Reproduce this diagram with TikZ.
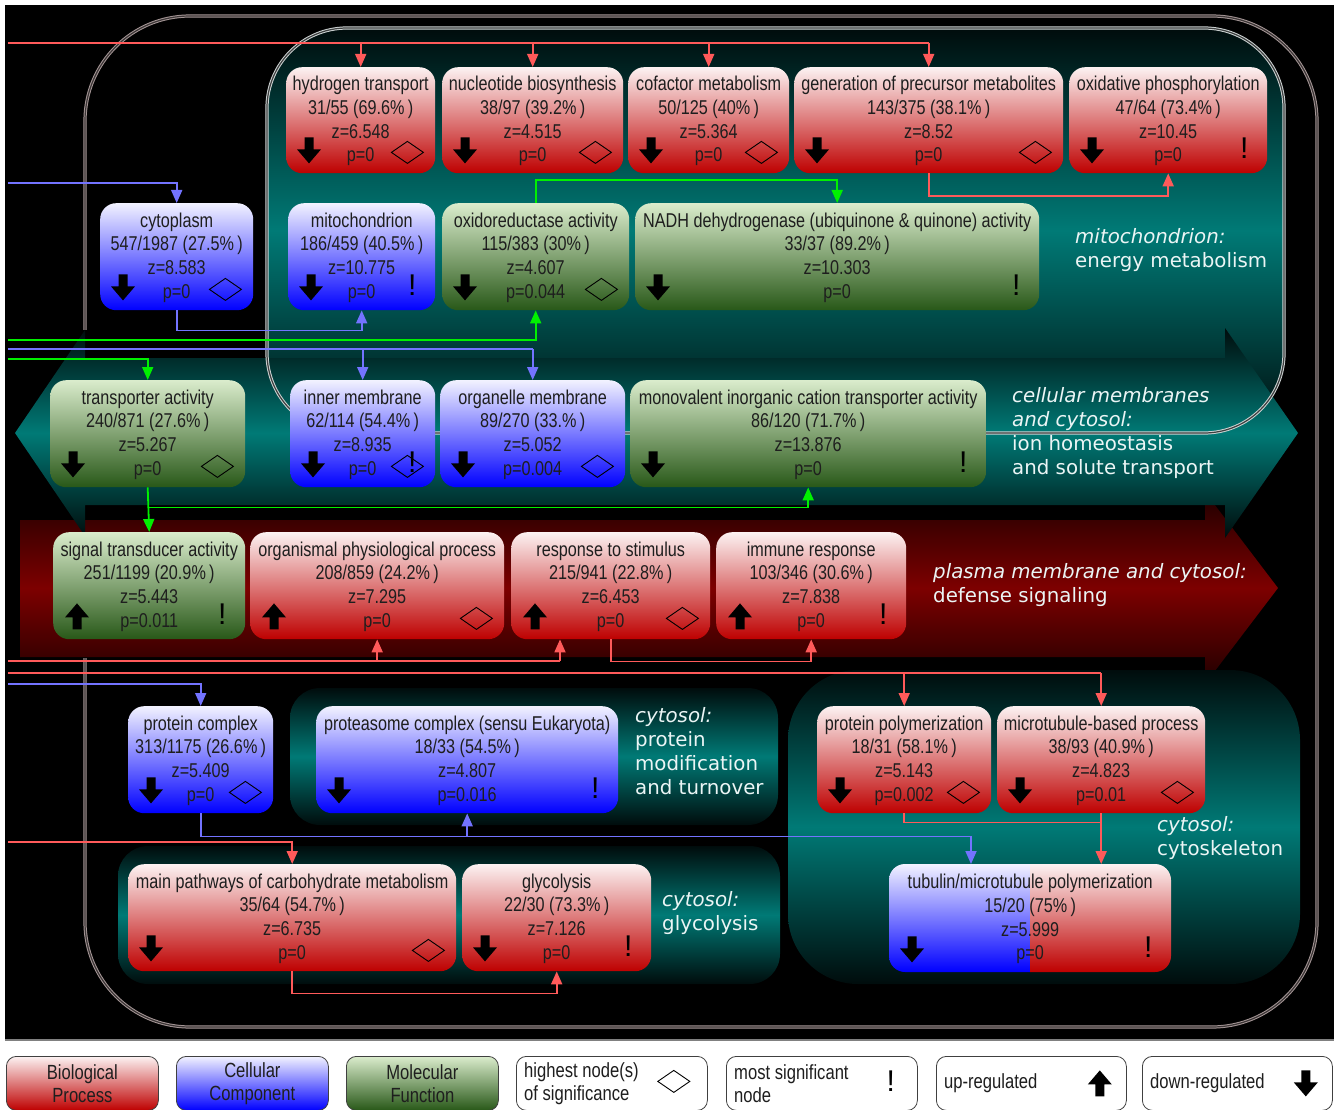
\documentclass[tikz,border=0pt]{standalone}
\usepackage{fontspec}
\newfontfamily\nodefont{Liberation Sans}[FakeStretch=0.81]
\newfontfamily\exfont{Liberation Sans}
\newfontfamily\regfont{DejaVu Sans}
\usetikzlibrary{arrows.meta,calc}
\definecolor{bpTop}{RGB}{252,242,242}
\definecolor{bpBot}{RGB}{190,0,0}
\definecolor{ccTop}{RGB}{242,242,255}
\definecolor{ccBot}{RGB}{0,0,255}
\definecolor{mfTop}{RGB}{218,236,204}
\definecolor{mfBot}{RGB}{40,88,24}
\definecolor{tealM}{RGB}{0,122,118}
\definecolor{tealD}{RGB}{0,12,12}
\definecolor{redM}{RGB}{125,0,0}
\definecolor{redD}{RGB}{30,0,0}
\definecolor{lnRed}{RGB}{255,90,90}
\definecolor{lnBlue}{RGB}{115,115,255}
\definecolor{lnGreen}{RGB}{0,240,0}
\definecolor{frameA}{RGB}{165,150,150}
\definecolor{frameB}{RGB}{205,210,210}
\definecolor{regtext}{RGB}{235,245,245}
\definecolor{nodetext}{RGB}{30,30,30}
\tikzset{
  gobox/.style={rounded corners=16pt, anchor=north west, align=center, inner sep=0pt,
    font=\nodefont\fontsize{20}{23.7}\selectfont, text=nodetext},
  bpbox/.style={gobox, top color=bpTop, bottom color=bpBot},
  ccbox/.style={gobox, top color=ccTop, bottom color=ccBot},
  mfbox/.style={gobox, top color=mfTop, bottom color=mfBot},
  rl/.style={lnRed, line width=1.8pt},
  bl/.style={lnBlue, line width=1.8pt},
  gl/.style={lnGreen, line width=1.8pt},
  arr/.style={-{Triangle[length=13pt,width=11pt]}},
  exmark/.style={font=\exfont\fontsize{30}{30}\selectfont, inner sep=0pt, text=black},
  reglab/.style={anchor=west, align=left, text=regtext, inner sep=0pt,
    font=\regfont\fontsize{19.8}{24}\selectfont},
  regshade/.style={top color=tealD, bottom color=tealD, middle color=tealM},
  legbox/.style={rounded corners=10pt, anchor=north west, minimum height=54pt, inner sep=0pt,
    font=\nodefont\fontsize{20.5}{23}\selectfont, align=center, draw=black!75, line width=0.8pt, text=nodetext},
  legtext/.style={anchor=west, align=left, inner sep=0pt, font=\nodefont\fontsize{20.5}{23}\selectfont, text=nodetext},
  outerframe/.style={draw=frameA, line width=1pt, double=frameA!35!black, double distance=1.2pt},
  innerframe/.style={draw=frameB, line width=1pt, double=frameB!30!black, double distance=1.2pt},
}
\newcommand\gonode[7]{\node[#1, minimum width={(#5-#3)*1pt}, minimum height={(#6-#4)*1pt}] (#2) at (#3,#4) {\raisebox{-6pt}[0pt][0pt]{\parbox{\dimexpr(#5pt-#3pt)\relax}{\centering #7}}};}
\newcommand\dnarr[1]{\fill[black] (#1) ++(-4.5,-13) -- ++(9,0) -- ++(0,12) -- ++(7.5,0) -- ++(-12,14) -- ++(-12,-14) -- ++(7.5,0) -- cycle;}
\newcommand\uparr[1]{\fill[black] (#1) ++(-4.5,13) -- ++(9,0) -- ++(0,-12) -- ++(7.5,0) -- ++(-12,-14) -- ++(-12,14) -- ++(7.5,0) -- cycle;}
\newcommand\diam[1]{\draw[black, line width=0.9pt] (#1) ++(-16,0) -- ++(16,-11) -- ++(16,11) -- ++(-16,11) -- cycle;}
\newcommand\Dn[1]{\dnarr{$(#1.south west)+(23,-23)$}}
\newcommand\Up[1]{\uparr{$(#1.south west)+(24,-23)$}}
\newcommand\Di[1]{\diam{$(#1.south east)+(-28,-21)$}}
\newcommand\Ex[1]{\node[exmark] (#1-ex) at ($(#1.south east)+(-23,-25)$) {!};}
\begin{document}
\begin{tikzpicture}[x=1pt, y=-1pt]
\useasboundingbox (0,0) rectangle (1334,1110);
\fill[white] (0,0) rectangle (1334,1110);
% black background
\fill[black] (5,5) rectangle (1334,1040);
\draw[gray, line width=1.2pt] (5,1040) -- (1334,1040);
% outer frame
\draw[outerframe, rounded corners=105pt] (85,16) rectangle (1317,1027);
\fill[black] (78,330) rectangle (92,658);
% mitochondrion region
\shade[regshade, rounded corners=80pt] (267,28) rectangle (1284,433);
% plasma membrane band
\shade[top color=redD, bottom color=redD, middle color=redM]
  (20,520) -- (1205,520) -- (1205,492) -- (1278,588) -- (1205,684) -- (1205,657) -- (20,657) -- cycle;
% cellular membranes band
\shade[regshade]
  (15,433) -- (85,330) -- (85,358) -- (1225,358) -- (1225,328) -- (1298,433) -- (1225,538) -- (1225,505) -- (85,505) -- (85,536) -- cycle;
% lower regions
\shade[regshade, rounded corners=30pt] (290,688) rectangle (778,825);
\shade[regshade, rounded corners=30pt] (118,846) rectangle (780,984);
\shade[regshade, rounded corners=70pt] (788,670) rectangle (1300,984);
% inner frame
\draw[innerframe, rounded corners=80pt] (267,28) rectangle (1284,433);

% region labels
\node[reglab] (labmito) at (1075,250) {\textit{mitochondrion:}\\energy metabolism};
\node[reglab] (labcell) at (1012,433) {\textit{cellular membranes}\\\textit{and cytosol:}\\ion homeostasis\\and solute transport};
\node[reglab] (labplas) at (933,585) {\textit{plasma membrane and cytosol:}\\defense signaling};
\node[reglab] (labprot) at (635,751) {\textit{cytosol:}\\protein\\modification\\and turnover};
\node[reglab] (labcysk) at (1157,838) {\textit{cytosol:}\\cytoskeleton};
\node[reglab] (labglyc) at (662,913) {\textit{cytosol:}\\glycolysis};

% tubulin split background
\begin{scope}
\clip[rounded corners=16pt] (889,864) rectangle (1171,972);
\shade[top color=ccTop, bottom color=ccBot] (889,864) rectangle (1030,972);
\shade[top color=bpTop, bottom color=bpBot] (1030,864) rectangle (1171,972);
\end{scope}

% nodes
\gonode{bpbox}{ht}{286}{67}{435}{173}{hydrogen transport\\31/55 (69.6\%\,)\\z=6.548\\p=0}
\gonode{bpbox}{nb}{442}{67}{623}{173}{nucleotide biosynthesis\\38/97 (39.2\%\,)\\z=4.515\\p=0}
\gonode{bpbox}{cm}{628}{67}{789}{173}{cofactor metabolism\\50/125 (40\%\,)\\z=5.364\\p=0}
\gonode{bpbox}{gen}{794}{67}{1063}{173}{generation of precursor metabolites\\143/375 (38.1\%\,)\\z=8.52\\p=0}
\gonode{bpbox}{oxp}{1069}{67}{1267}{173}{oxidative phosphorylation\\47/64 (73.4\%\,)\\z=10.45\\p=0}
\gonode{ccbox}{cyto}{100}{203}{253}{310}{cytoplasm\\547/1987 (27.5\%\,)\\z=8.583\\p=0}
\gonode{ccbox}{mito}{288}{203}{435}{310}{mitochondrion\\186/459 (40.5\%\,)\\z=10.775\\p=0}
\gonode{mfbox}{oxr}{442}{203}{629}{310}{oxidoreductase activity\\115/383 (30\%\,)\\z=4.607\\p=0.044}
\gonode{mfbox}{nadh}{635}{203}{1039}{310}{NADH dehydrogenase (ubiquinone \& quinone) activity\\33/37 (89.2\%\,)\\z=10.303\\p=0}
\gonode{mfbox}{tr}{50}{380}{245}{487}{transporter activity\\240/871 (27.6\%\,)\\z=5.267\\p=0}
\gonode{ccbox}{inm}{290}{380}{435}{487}{inner membrane\\62/114 (54.4\%\,)\\z=8.935\\p=0}
\gonode{ccbox}{orgm}{440}{380}{625}{487}{organelle membrane\\89/270 (33.\%\,)\\z=5.052\\p=0.004}
\gonode{mfbox}{mono}{630}{380}{986}{487}{monovalent inorganic cation transporter activity\\86/120 (71.7\%\,)\\z=13.876\\p=0}
\gonode{mfbox}{st}{53}{532}{245}{639}{signal transducer activity\\251/1199 (20.9\%\,)\\z=5.443\\p=0.011}
\gonode{bpbox}{orgp}{250}{532}{504}{639}{organismal physiological process\\208/859 (24.2\%\,)\\z=7.295\\p=0}
\gonode{bpbox}{resp}{511}{532}{710}{639}{response to stimulus\\215/941 (22.8\%\,)\\z=6.453\\p=0}
\gonode{bpbox}{imm}{716}{532}{906}{639}{immune response\\103/346 (30.6\%\,)\\z=7.838\\p=0}
\gonode{ccbox}{pc}{128}{706}{273}{813}{protein complex\\313/1175 (26.6\%\,)\\z=5.409\\p=0}
\gonode{ccbox}{prs}{316}{706}{618}{813}{proteasome complex (sensu Eukaryota)\\18/33 (54.5\%\,)\\z=4.807\\p=0.016}
\gonode{bpbox}{pp}{817}{706}{991}{813}{protein polymerization\\18/31 (58.1\%\,)\\z=5.143\\p=0.002}
\gonode{bpbox}{mtb}{997}{706}{1205}{813}{microtubule-based process\\38/93 (40.9\%\,)\\z=4.823\\p=0.01}
\gonode{bpbox}{mp}{128}{864}{456}{971}{main pathways of carbohydrate metabolism\\35/64 (54.7\%\,)\\z=6.735\\p=0}
\gonode{bpbox}{gly}{462}{864}{651}{971}{glycolysis\\22/30 (73.3\%\,)\\z=7.126\\p=0}
\gonode{gobox}{tub}{889}{864}{1171}{972}{tubulin/microtubule polymerization\\15/20 (75\%\,)\\z=5.999\\p=0}

% connectors
\coordinate (Lr1) at (8,43);
\draw[rl] (Lr1) -- (Lr1 -| gen.north);
\foreach \n in {ht,nb,cm,gen} \draw[rl,arr] (Lr1 -| \n.north) -- (\n.north);
\draw[rl,arr] (gen.south) -- ++(0,23) -| (oxp.south);

\coordinate (Lb1) at (8,183);
\draw[bl,arr] (Lb1) -| (cyto.north);
\draw[bl,arr] (cyto.south) -- ++(0,20) -| (mito.south);

\coordinate (Lg1) at (8,340);
\draw[gl,arr] (Lg1) -| (oxr.south);
\draw[gl,arr] (oxr.north) -- ++(0,-23) -| (nadh.north);

\coordinate (Lb2) at (8,349);
\draw[bl] (Lb2) -- (Lb2 -| orgm.north);
\draw[bl,arr] (Lb2 -| inm.north) -- (inm.north);
\draw[bl,arr] (Lb2 -| orgm.north) -- (orgm.north);

\coordinate (Lg2) at (8,359);
\draw[gl,arr] (Lg2) -| (tr.north);
\draw[gl,arr] (tr.south) -- (st.north);
\coordinate (jg) at ($(tr.south)+(0,20)$);
\draw[gl,arr] (jg) -| (mono.south);

\coordinate (Lr2) at (8,661);
\coordinate (x560) at (560,0);
\draw[rl] (Lr2) -- (Lr2 -| x560);
\draw[rl,arr] (Lr2 -| orgp.south) -- (orgp.south);
\draw[rl,arr] (Lr2 -| x560) -- (x560 |- resp.south);
\draw[rl,arr] (resp.south) -- ++(0,22) -| (imm.south);

\coordinate (Lr3) at (8,673);
\draw[rl] (Lr3) -- (Lr3 -| mtb.north);
\draw[rl,arr] (Lr3 -| pp.north) -- (pp.north);
\draw[rl,arr] (Lr3 -| mtb.north) -- (mtb.north);

\coordinate (Lb3) at (8,684);
\coordinate (x971) at (971,0);
\draw[bl,arr] (Lb3) -| (pc.north);
\coordinate (jb) at ($(pc.south)+(0,23)$);
\draw[bl,arr] (pc.south) -- (jb) -| (x971 |- tub.north);
\draw[bl,arr] (jb -| prs.south) -- (prs.south);

\coordinate (Lr4) at (8,842);
\draw[rl,arr] (Lr4) -| (mp.north);
\draw[rl,arr] (mp.south) -- ++(0,22) -| (gly.south);
\draw[rl] (pp.south) -- ++(0,9) -| (mtb.south);
\draw[rl,arr] (mtb.south) -- (mtb.south |- tub.north);

% marks
\Dn{ht}\Di{ht}
\Dn{nb}\Di{nb}
\Dn{cm}\Di{cm}
\Dn{gen}\Di{gen}
\Dn{oxp}\Ex{oxp}
\Dn{cyto}\Di{cyto}
\Dn{mito}\Ex{mito}
\Dn{oxr}\Di{oxr}
\Dn{nadh}\Ex{nadh}
\Dn{tr}\Di{tr}
\Dn{inm}\Di{inm}\Ex{inm}
\Dn{orgm}\Di{orgm}
\Dn{mono}\Ex{mono}
\Up{st}\Ex{st}
\Up{orgp}\Di{orgp}
\Up{resp}\Di{resp}
\Up{imm}\Ex{imm}
\Dn{pc}\Di{pc}
\Dn{prs}\Ex{prs}
\Dn{pp}\Di{pp}
\Dn{mtb}\Di{mtb}
\Dn{mp}\Di{mp}
\Dn{gly}\Ex{gly}
\Dn{tub}\Ex{tub}

% legend
\node[legbox, top color=bpTop, bottom color=bpBot, minimum width=152pt] (lg1) at (6,1056) {Biological\\Process};
\node[legbox, top color=ccTop, bottom color=ccBot, minimum width=152pt] (lg2) at (176,1056) {Cellular\\Component};
\node[legbox, top color=mfTop, bottom color=mfBot, minimum width=152pt] (lg3) at (346,1056) {Molecular\\Function};
\node[legbox, fill=white, minimum width=191pt] (lg4) at (516,1056) {};
\node[legbox, fill=white, minimum width=191pt] (lg5) at (726,1056) {};
\node[legbox, fill=white, minimum width=190pt] (lg6) at (936,1056) {};
\node[legbox, fill=white, minimum width=190pt] (lg7) at (1142,1056) {};
\node[legtext] (lg4t) at ($(lg4.west)+(8,0)$) {highest node(s)\\of significance};
\node[legtext] (lg5t) at ($(lg5.west)+(8,0)$) {most significant\\node};
\node[legtext] (lg6t) at ($(lg6.west)+(8,0)$) {up-regulated};
\node[legtext] (lg7t) at ($(lg7.west)+(8,0)$) {down-regulated};
\diam{$(lg4.east)+(-34,-2)$}
\node[exmark] (lg5-ex) at ($(lg5.east)+(-27,-2)$) {!};
\uparr{$(lg6.east)+(-27,0)$}
\dnarr{$(lg7.east)+(-27,0)$}
\end{tikzpicture}
\end{document}
